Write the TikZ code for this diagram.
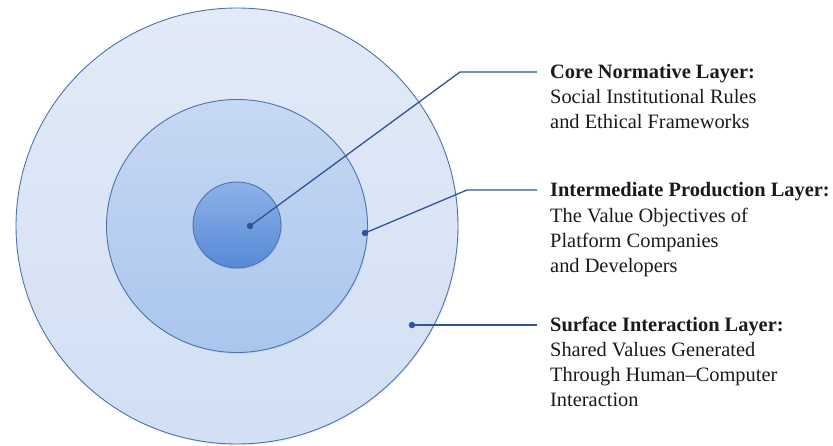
\documentclass[tikz,border=0pt]{standalone}
\usepackage{fontspec}
\setmainfont{Liberation Serif}
\usepackage{xcolor}
\usepackage{tikz}
\usetikzlibrary{positioning, shapes.geometric, shadows}

\definecolor{rim}{HTML}{4E72AE}
\definecolor{wire}{HTML}{2F5597}
\definecolor{outerTop}{HTML}{E2EAF7}
\definecolor{outerBot}{HTML}{D2DFF4}
\definecolor{midTop}{HTML}{C6D8F3}
\definecolor{midBot}{HTML}{AAC6EE}
\definecolor{coreTop}{HTML}{8DB2EA}
\definecolor{coreBot}{HTML}{5689D6}
\definecolor{ink}{HTML}{1A1A1A}

\begin{document}
\begin{tikzpicture}[x = 1pt, y = 1pt, node distance = 13pt]
            \tikzstyle{layer} = [ellipse, draw=rim, line width=0.9pt, inner sep=0pt,
                drop shadow={opacity=0.12, shadow xshift=1pt, shadow yshift=-1.5pt}];
            \tikzstyle{dot} = [circle, fill=wire, inner sep=0pt, minimum size=6.5pt];
            \tikzstyle{wire} = [draw=wire, line width=1.3pt];
            \tikzstyle{title} = [anchor=west, inner sep=0pt, font=\fontsize{20.4}{25}\selectfont\bfseries,
                text=ink, text height=14pt, text depth=1pt];
            \tikzstyle{desc} = [inner sep=0pt, align=left,
                font=\fontsize{20.4}{25}\selectfont, text=ink];
            \useasboundingbox (0, 0) rectangle (833, 445);

            % the three layers, from the outside in
            \node [layer, minimum width=442pt, minimum height=436pt,
                top color=outerTop, bottom color=outerBot] (outer) at (237, 219) {};
            \node [layer, minimum width=261pt, minimum height=253pt,
                top color=midTop, bottom color=midBot] (middle) at (237, 219) {};
            \node [layer, minimum width=88pt, minimum height=86pt,
                top color=coreTop, bottom color=coreBot] (core) at (237, 220) {};

            % leader dots, bends and line ends
            \node [dot] (P1) at (250, 219) {};
            \node [dot] (P2) at (365, 212) {};
            \node [dot] (P3) at (412, 120) {};
            \coordinate (K1) at (460, 373);
            \coordinate (K2) at (467, 255);
            \coordinate (E1) at (537, 373);
            \coordinate (E2) at (537, 255);
            \coordinate (E3) at (537, 120);

            \draw [wire] (P1.center) -- (K1) -- (E1);
            \draw [wire] (P2.center) -- (K2) -- (E2);
            \draw [wire] (P3.center) -- (E3);

            % labels
            \node [title, right = of E1] (T1) {Core Normative Layer:};
            \node [desc, below = 11pt of T1.base west, anchor=north west] (D1) {Social Institutional Rules\\and Ethical Frameworks};

            \node [title, right = of E2] (T2) {Intermediate Production Layer:};
            \node [desc, below = 11pt of T2.base west, anchor=north west] (D2) {The Value Objectives of\\Platform Companies\\and Developers};

            \node [title, right = of E3] (T3) {Surface Interaction Layer:};
            \node [desc, below = 11pt of T3.base west, anchor=north west] (D3) {Shared Values Generated\\Through Human--Computer\\Interaction};
        \end{tikzpicture}
\end{document}
